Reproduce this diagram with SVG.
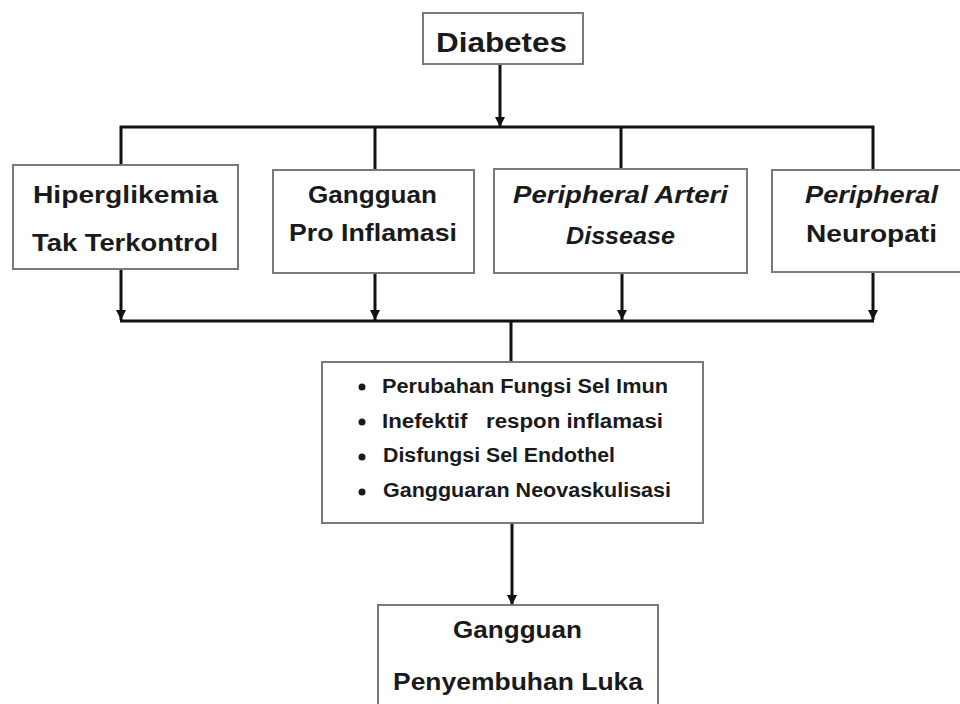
<svg xmlns="http://www.w3.org/2000/svg" width="960" height="704" viewBox="0 0 960 704">
<style>
.box{fill:#fff;stroke:#7a7a7a;stroke-width:2}
.t{font-family:"Liberation Sans",Arial,sans-serif;font-weight:bold;fill:#1a1a1a;text-anchor:start}
.i{font-style:italic}
.c{fill:none;stroke:#111;stroke-width:3}
</style>
<defs>
<marker id="ah" viewBox="0 0 10 10" refX="10" refY="5" markerWidth="10" markerHeight="10" markerUnits="userSpaceOnUse" orient="auto">
<path d="M0,0 L10,5 L0,10 z" fill="#111"/>
</marker>
</defs>
<rect width="960" height="704" fill="#fff"/>
<g id="connectors">
<path class="c" d="M500,64 V127" marker-end="url(#ah)"/>
<path class="c" d="M121,166 V127 H873 V170"/>
<path class="c" d="M375,127 V170"/>
<path class="c" d="M621,127 V169"/>
<path class="c" d="M121,269 V320" marker-end="url(#ah)"/>
<path class="c" d="M375,273 V320" marker-end="url(#ah)"/>
<path class="c" d="M622,273 V320" marker-end="url(#ah)"/>
<path class="c" d="M873,272 V320" marker-end="url(#ah)"/>
<path class="c" d="M120,321 H874"/>
<path class="c" d="M511,321 V362"/>
<path class="c" d="M512,523 V605" marker-end="url(#ah)"/>
</g>
<g id="diabetes">
<rect class="box" x="423" y="13" width="160" height="51"/>
<text class="t" x="436" y="52" font-size="28" textLength="131" lengthAdjust="spacingAndGlyphs">Diabetes</text>
</g>
<g id="hiperglikemia">
<rect class="box" x="13" y="165" width="225" height="104"/>
<text class="t" x="33" y="203" font-size="24" textLength="185" lengthAdjust="spacingAndGlyphs">Hiperglikemia</text>
<text class="t" x="32" y="251" font-size="24" textLength="186" lengthAdjust="spacingAndGlyphs">Tak Terkontrol</text>
</g>
<g id="pro-inflamasi">
<rect class="box" x="273" y="170" width="201" height="103"/>
<text class="t" x="308" y="203" font-size="24" textLength="129" lengthAdjust="spacingAndGlyphs">Gangguan</text>
<text class="t" x="289" y="241" font-size="24" textLength="168" lengthAdjust="spacingAndGlyphs">Pro Inflamasi</text>
</g>
<g id="pad">
<rect class="box" x="494" y="169" width="253" height="104"/>
<text class="t i" x="513" y="203" font-size="24" textLength="215" lengthAdjust="spacingAndGlyphs">Peripheral Arteri</text>
<text class="t i" x="566" y="244" font-size="24" textLength="109" lengthAdjust="spacingAndGlyphs">Dissease</text>
</g>
<g id="neuropati">
<rect class="box" x="772" y="170" width="200" height="102"/>
<text class="t i" x="805" y="203" font-size="24" textLength="133" lengthAdjust="spacingAndGlyphs">Peripheral</text>
<text class="t" x="806" y="242" font-size="24" textLength="131" lengthAdjust="spacingAndGlyphs">Neuropati</text>
</g>
<g id="mekanisme">
<rect class="box" x="322" y="362" width="381" height="161"/>
<circle cx="362" cy="387" r="3.5" fill="#1a1a1a"/>
<circle cx="362" cy="422" r="3.5" fill="#1a1a1a"/>
<circle cx="362" cy="457" r="3.5" fill="#1a1a1a"/>
<circle cx="362" cy="492" r="3.5" fill="#1a1a1a"/>
<text class="t" x="382" y="393" font-size="20" textLength="286" lengthAdjust="spacingAndGlyphs">Perubahan Fungsi Sel Imun</text>
<text class="t" x="382" y="428" font-size="20" textLength="281" lengthAdjust="spacingAndGlyphs" xml:space="preserve" style="white-space:pre">Inefektif   respon inflamasi</text>
<text class="t" x="383" y="462" font-size="20" textLength="232" lengthAdjust="spacingAndGlyphs">Disfungsi Sel Endothel</text>
<text class="t" x="383" y="497" font-size="20" textLength="288" lengthAdjust="spacingAndGlyphs">Gangguaran Neovaskulisasi</text>
</g>
<g id="penyembuhan">
<rect class="box" x="378" y="605" width="280" height="110"/>
<text class="t" x="453" y="638" font-size="24" textLength="129" lengthAdjust="spacingAndGlyphs">Gangguan</text>
<text class="t" x="393" y="690" font-size="24" textLength="250" lengthAdjust="spacingAndGlyphs">Penyembuhan Luka</text>
</g>
</svg>
